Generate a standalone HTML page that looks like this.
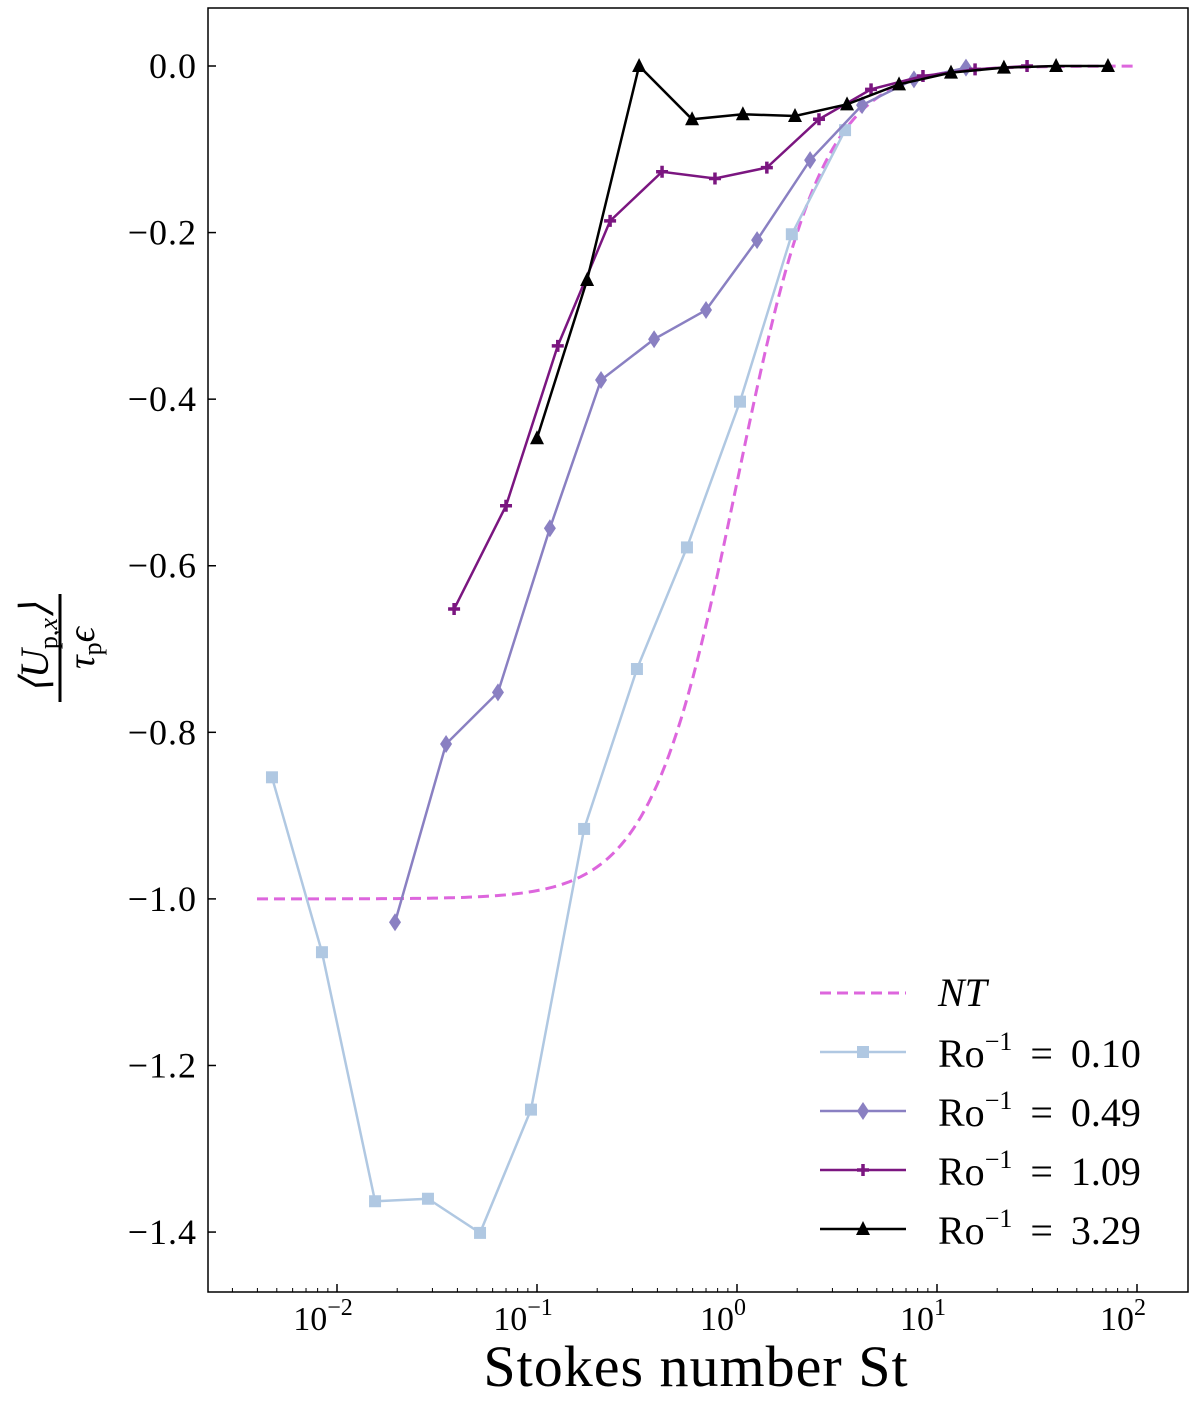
<!DOCTYPE html>
<html><head><meta charset="utf-8"><style>
body{margin:0;background:#fff;}
svg text{font-family:"Liberation Serif",serif;fill:#000;}
</style></head><body>
<svg id="chart" width="1200" height="1402" xmlns="http://www.w3.org/2000/svg">
<rect x="208" y="8" width="980" height="1284" fill="none" stroke="#000" stroke-width="1.5"/>
<g id="ticks"></g><g id="series"></g>
<text x="696" y="1386" font-size="58" text-anchor="middle" letter-spacing="1">Stokes number St</text>
<g transform="translate(60,648) rotate(-90)">
<text x="0" y="-12" font-size="40" text-anchor="middle" font-style="italic">⟨U<tspan font-size="26" dy="9" font-style="normal">p,</tspan><tspan font-size="26">x</tspan><tspan dy="-9">⟩</tspan></text>
<line x1="-54" y1="0" x2="54" y2="0" stroke="#000" stroke-width="3"/>
<text x="0" y="34" font-size="38" text-anchor="middle" font-style="italic">τ<tspan font-size="26" dy="7" font-style="normal">p</tspan><tspan dy="-7">ϵ</tspan></text>
</g>
<g id="legend"></g>
</svg>
<script>
const stBlue=[0.00473,0.00841,0.0155,0.0285,0.0519,0.0933,0.172,0.316,0.562,1.035,1.88,3.47];
const vBlue=[-0.854,-1.064,-1.363,-1.36,-1.401,-1.253,-0.916,-0.724,-0.578,-0.403,-0.202,-0.077];
const stDia=[0.0195,0.0351,0.0638,0.116,0.209,0.385,0.70,1.26,2.32,4.22,7.67,13.96];
const vDia=[-1.028,-0.814,-0.752,-0.555,-0.377,-0.328,-0.293,-0.209,-0.113,-0.047,-0.016,-0.002];
const stPlus=[0.0385,0.07,0.127,0.232,0.422,0.776,1.41,2.57,4.68,8.51,15.5,28.2];
const vPlus=[-0.652,-0.528,-0.336,-0.186,-0.127,-0.135,-0.122,-0.064,-0.028,-0.012,-0.004,0];
const stTri=[0.1,0.178,0.324,0.596,1.07,1.95,3.55,6.46,11.75,21.6,39.4,71.6];
const vTri=[-0.447,-0.257,0,-0.064,-0.058,-0.06,-0.046,-0.022,-0.008,-0.002,0,0];
const yTicks=[0,-0.2,-0.4,-0.6,-0.8,-1.0,-1.2,-1.4];
const xDecades=[-2,-1,0,1,2];
const NS="http://www.w3.org/2000/svg";
const X=st=>737+200*Math.log10(st);
const Y=v=>66-v*832.9;
function el(tag,attrs,parent){const e=document.createElementNS(NS,tag);for(const k in attrs)e.setAttribute(k,attrs[k]);parent.appendChild(e);return e;}
const tk=document.getElementById('ticks');
yTicks.forEach(v=>{
 const l=el('line',{x1:208,x2:216,y1:Y(v),y2:Y(v),stroke:'#000','stroke-width':1.5},tk);
 
 
 const t=el('text',{x:197,y:Y(v)+12,'font-size':36,'text-anchor':'end','letter-spacing':1},tk);
 t.textContent=(v===0?'0.0':'\u2212'+Math.abs(v).toFixed(1));
 
 
});
for(let d=-3;d<=2;d++){for(let m=1;m<10;m++){const x=X(m*Math.pow(10,d));if(x<208||x>1188)continue;
 const l=el('line',{x1:x,x2:x,y1:1292,y2:m===1?1284:1288,stroke:'#000','stroke-width':m===1?1.5:1},tk);
 
 }}
xDecades.forEach(d=>{
 const t=el('text',{x:X(Math.pow(10,d))-14,y:1330,'font-size':34,'text-anchor':'middle'},tk);
 t.innerHTML='10<tspan font-size="24" dy="-15">'+(d<0?'\u2212':'')+Math.abs(d)+'</tspan>';
 
 
});
const sg=document.getElementById('series');
let pts=[];for(let lg=-2.4;lg<=2.0;lg+=0.02){const s=Math.pow(10,lg);pts.push(X(s)+','+Y(-1/(1+s*s)));}
const nt=el('polyline',{points:pts.join(' '),fill:'none',stroke:'#dd66dd','stroke-width':3,'stroke-dasharray':'11,6'},sg);


function marker(type,x,y,c,g){
 let e;
 if(type==='s')e=el('rect',{x:x-6,y:y-6,width:12,height:12,fill:c},g);
 else if(type==='d')e=el('polygon',{points:`${x},${y-9} ${x+6},${y} ${x},${y+9} ${x-6},${y}`,fill:c},g);
 else if(type==='p')e=el('path',{d:`M${x-6},${y}H${x+6}M${x},${y-6}V${y+6}`,stroke:c,'stroke-width':3.5},g);
 else e=el('polygon',{points:`${x},${y-8} ${x+7},${y+6} ${x-7},${y+6}`,fill:c},g);
 return e;
}
const defs=[
 ['blue',stBlue,vBlue,'#b0c8e2','s','0.10'],
 ['diamond',stDia,vDia,'#8a80c2','d','0.49'],
 ['plus',stPlus,vPlus,'#7b1680','p','1.09'],
 ['black',stTri,vTri,'#000000','t','3.29']];
defs.forEach(([n,xs,vs,c,m])=>{
 const g=el('g',{},sg);
 
 
 el('polyline',{points:xs.map((s,i)=>X(s)+','+Y(vs[i])).join(' '),fill:'none',stroke:c,'stroke-width':2.5},g);
 xs.forEach((s,i)=>{const mk=marker(m,X(s),Y(vs[i]),c,g);
  
  });
});
const lg=document.getElementById('legend');
const e0=el('g',{},lg);


el('line',{x1:820,x2:906,y1:993,y2:993,stroke:'#dd66dd','stroke-width':3,'stroke-dasharray':'11,6'},e0);
const t0=el('text',{x:938,y:1006,'font-size':40,'font-style':'italic'},e0);t0.textContent='NT';
defs.forEach(([n,xs,vs,c,m,lab],i)=>{
 const y=1052+i*59;
 const g=el('g',{},lg);
 
 
 el('line',{x1:820,x2:906,y1:y,y2:y,stroke:c,'stroke-width':2.5},g);
 marker(m,863,y,c,g);
 const t=el('text',{x:938,y:y+15,'font-size':40},g);
 t.innerHTML='Ro<tspan font-size="26" dy="-17">\u22121</tspan><tspan dy="17"> \u2009=\u2009 '+lab+'</tspan>';
});
</script>
</body></html>
